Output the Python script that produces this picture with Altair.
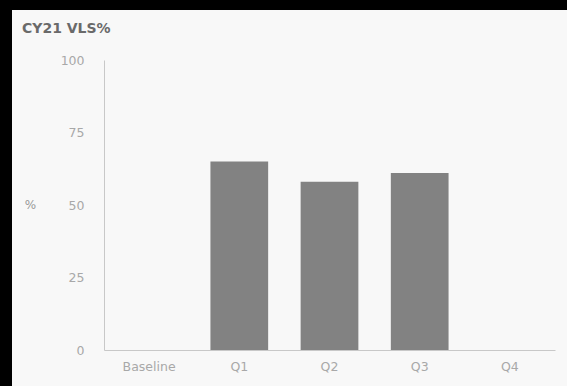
import altair as alt
import pandas as pd

categories = ["Baseline", "Q1", "Q2", "Q3", "Q4"]
values = [None, 65, 58, 61, None]
y_ticks = [0, 25, 50, 75, 100]

df = pd.DataFrame({"period": categories, "vls": values})

W, H = 451, 290
FONT = "DejaVu Sans"

panel = alt.Chart(pd.DataFrame({"a": [0]})).mark_rect(color="#f8f8f8").encode(
    x=alt.value(-92), x2=alt.value(463), y=alt.value(-50), y2=alt.value(326)
)

bars = alt.Chart(df).mark_bar(color="#828282").encode(
    x=alt.X("period:N", sort=categories, scale=alt.Scale(domain=categories, paddingInner=0.36, paddingOuter=0.18),
            axis=alt.Axis(title=None, labelAngle=0, ticks=False, labelPadding=10, zindex=1,
                          labelColor="#a8a8a8", labelFontSize=12.5, labelFont=FONT,
                          domainColor="#c8c8c8")),
    y=alt.Y("vls:Q", scale=alt.Scale(domain=[0, 100]),
            axis=alt.Axis(values=y_ticks, title="%", titleAngle=0, titleX=-74, titleY=151, zindex=1,
                          titleColor="#999999", titleFontSize=12, titleFont=FONT, titleFontWeight="normal",
                          ticks=False, grid=False, labelPadding=20, labelColor="#a8a8a8",
                          labelFontSize=12.5, labelFont=FONT, domainColor="#c8c8c8")),
)

chart = alt.layer(panel, bars).properties(
    width=W, height=H,
    title=alt.TitleParams("CY21 VLS%", anchor="start", frame="group", dx=-82, offset=-26,
                          fontSize=14, font=FONT, fontWeight="bold", color="#6a6a6a"),
    padding={"left": 104, "top": 60, "right": 12, "bottom": 36},
    autosize=alt.AutoSizeParams(type="none"),
    background="#000000",
).configure_view(stroke=None)

chart.save("out.html", embed_options={"renderer": "svg", "actions": False})
